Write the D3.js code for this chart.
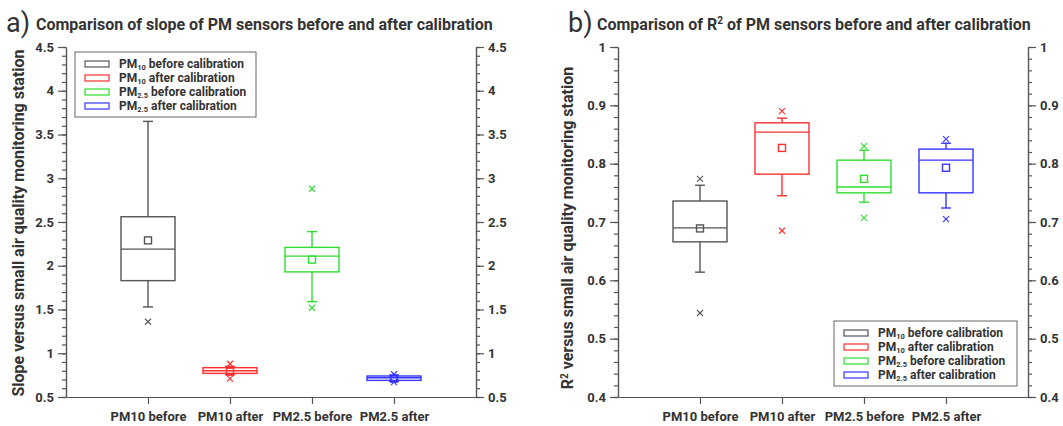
<!DOCTYPE html>
<html>
<head>
<meta charset="utf-8">
<script src="https://cdn.jsdelivr.net/npm/d3@7"></script>
<style>
  body { margin: 0; background: #fff; }
  svg text { font-family: Roboto, "Liberation Sans", sans-serif; fill: #333; }
</style>
</head>
<body>
<svg id="chart" width="1063" height="426"></svg>
<script>
// categories on the x axis
const categories = ["PM10 before", "PM10 after", "PM2.5 before", "PM2.5 after"];
const seriesColors = ["#555555", "#ff3030", "#30dd30", "#3535ff"];

// panel a: slope statistics
const slopeWhiskerLow = [1.53, 0.755, 1.59, 0.68];
const slopeQ1 = [1.83, 0.77, 1.93, 0.69];
const slopeMedian = [2.19, 0.80, 2.11, 0.72];
const slopeQ3 = [2.56, 0.835, 2.21, 0.74];
const slopeWhiskerHigh = [3.65, 0.85, 2.39, 0.75];
const slopeMean = [2.29, 0.79, 2.07, 0.71];
const slopeOutliers = [[1.36], [0.88, 0.71], [1.52, 2.88], [0.76, 0.67]];

// panel b: R² statistics
const r2WhiskerLow = [0.614, 0.745, 0.734, 0.724];
const r2Q1 = [0.666, 0.782, 0.750, 0.750];
const r2Median = [0.690, 0.854, 0.760, 0.806];
const r2Q3 = [0.736, 0.870, 0.806, 0.825];
const r2WhiskerHigh = [0.763, 0.878, 0.823, 0.835];
const r2Mean = [0.689, 0.827, 0.774, 0.793];
const r2Outliers = [[0.544, 0.774], [0.685, 0.890], [0.707, 0.830], [0.705, 0.842]];

// legend labels: [main, subscript, rest]
const legendLabels = [
  ["PM", "10", " before calibration"],
  ["PM", "10", " after calibration"],
  ["PM", "2.5", " before calibration"],
  ["PM", "2.5", " after calibration"]
];

const svg = d3.select("#chart");
const plotTop = 47, plotBottom = 397, plotWidth = 410;

function drawPanel(opt) {
  const g = svg.append("g");
  const L = opt.left, R = opt.left + plotWidth;

  const x = d3.scalePoint().domain(categories).range([L, R]).padding(1);
  const y = d3.scaleLinear().domain(opt.domain).range([plotBottom, plotTop]);

  const major = d3.range(opt.domain[0], opt.domain[1] + 1e-9, opt.major).map(v => +v.toFixed(3));
  const minor = d3.range(opt.domain[0], opt.domain[1] + 1e-9, opt.minor).map(v => +v.toFixed(3));

  // minor ticks first (no labels)
  g.append("g").attr("transform", `translate(${L},0)`)
    .call(d3.axisLeft(y).tickValues(minor).tickSize(4).tickSizeOuter(0).tickFormat(""));
  g.append("g").attr("transform", `translate(${R},0)`)
    .call(d3.axisRight(y).tickValues(minor).tickSize(4).tickSizeOuter(0).tickFormat(""));

  // major ticks with labels
  g.append("g").attr("transform", `translate(${L},0)`)
    .call(d3.axisLeft(y).tickValues(major).tickSize(8).tickSizeOuter(0).tickPadding(4).tickFormat(d3.format("")));
  g.append("g").attr("transform", `translate(${R},0)`)
    .call(d3.axisRight(y).tickValues(major).tickSize(8).tickSizeOuter(0).tickPadding(4).tickFormat(d3.format("")));

  g.append("g").attr("transform", `translate(0,${plotBottom})`)
    .call(d3.axisBottom(x).tickSize(7).tickSizeOuter(0).tickPadding(8));

  g.selectAll(".domain, .tick line").attr("stroke", "#555").attr("stroke-width", 1.2);
  g.selectAll(".tick text")
    .attr("font-size", 13).attr("font-weight", "bold").attr("fill", "#333")
    .style("font-family", "Roboto, 'Liberation Sans', sans-serif");

  // boxes
  const boxW = 54, capW = 10, m = 3.5, c = 3;
  categories.forEach((cat, i) => {
    const cx = x(cat), col = seriesColors[i];
    const bg = g.append("g").attr("stroke", col).attr("fill", "none").attr("stroke-width", 1.4);
    bg.append("line").attr("x1", cx).attr("x2", cx).attr("y1", y(opt.q3[i])).attr("y2", y(opt.hi[i]));
    bg.append("line").attr("x1", cx).attr("x2", cx).attr("y1", y(opt.q1[i])).attr("y2", y(opt.lo[i]));
    bg.append("line").attr("x1", cx - capW / 2).attr("x2", cx + capW / 2).attr("y1", y(opt.hi[i])).attr("y2", y(opt.hi[i]));
    bg.append("line").attr("x1", cx - capW / 2).attr("x2", cx + capW / 2).attr("y1", y(opt.lo[i])).attr("y2", y(opt.lo[i]));
    bg.append("rect").attr("x", cx - boxW / 2).attr("width", boxW)
      .attr("y", y(opt.q3[i])).attr("height", y(opt.q1[i]) - y(opt.q3[i]));
    bg.append("line").attr("x1", cx - boxW / 2).attr("x2", cx + boxW / 2)
      .attr("y1", y(opt.median[i])).attr("y2", y(opt.median[i]));
    bg.append("rect").attr("x", cx - m).attr("y", y(opt.mean[i]) - m).attr("width", 2 * m).attr("height", 2 * m);
    opt.outliers[i].forEach(v => {
      const oy = y(v);
      bg.append("path").attr("stroke-width", 1.1)
        .attr("d", `M${cx - c},${oy - c}L${cx + c},${oy + c}M${cx - c},${oy + c}L${cx + c},${oy - c}`);
    });
  });

  // legend
  const lg = g.append("g").attr("transform", `translate(${opt.legend[0]},${opt.legend[1]})`);
  lg.append("rect").attr("width", opt.legend[2]).attr("height", 65)
    .attr("fill", "#fff").attr("stroke", "#666").attr("stroke-width", 1);
  legendLabels.forEach((lab, i) => {
    const ly = 12 + i * 14;
    lg.append("rect").attr("x", 10).attr("y", ly - 3).attr("width", 24).attr("height", 6)
      .attr("fill", "none").attr("stroke", seriesColors[i]).attr("stroke-width", 1.2);
    const t = lg.append("text").attr("x", 44).attr("y", ly + 4)
      .attr("font-size", 12).attr("font-weight", "bold");
    t.append("tspan").text(lab[0]);
    t.append("tspan").attr("font-size", 7.5).attr("dy", 2).text(lab[1]);
    t.append("tspan").attr("dy", -2).text(lab[2]);
  });

  // panel letter and title
  svg.append("text").attr("x", opt.letterX).attr("y", 32)
    .attr("font-size", 27).attr("fill", "#333").text(opt.letter);
  const tt = svg.append("text").attr("x", opt.titleX).attr("y", 30)
    .attr("font-size", 16).attr("font-weight", "bold").attr("fill", "#333");
  opt.title.forEach(p => {
    const s = tt.append("tspan").text(p[0]);
    if (p[1] === "sup") s.attr("font-size", 10).attr("dy", -6);
    if (p[1] === "after") s.attr("dy", 6);
  });

  // y axis label
  const yl = svg.append("text")
    .attr("transform", `translate(${opt.ylabelX},${opt.ylabelY}) rotate(-90)`)
    .attr("text-anchor", "middle").attr("font-size", 16).attr("font-weight", "bold").attr("fill", "#333");
  opt.ylabel.forEach(p => {
    const s = yl.append("tspan").text(p[0]);
    if (p[1] === "sup") s.attr("font-size", 10).attr("dy", -5);
    if (p[1] === "after") s.attr("dy", 5);
  });
}

drawPanel({
  left: 66, domain: [0.5, 4.5], major: 0.5, minor: 0.1,
  lo: slopeWhiskerLow, q1: slopeQ1, median: slopeMedian, q3: slopeQ3, hi: slopeWhiskerHigh,
  mean: slopeMean, outliers: slopeOutliers,
  legend: [75, 52, 181],
  letter: "a)", letterX: 6, titleX: 36,
  title: [["Comparison of slope of PM sensors before and after calibration"]],
  ylabelX: 24, ylabelY: 223,
  ylabel: [["Slope versus small air quality monitoring station"]]
});

drawPanel({
  left: 618, domain: [0.4, 1.0], major: 0.1, minor: 0.02,
  lo: r2WhiskerLow, q1: r2Q1, median: r2Median, q3: r2Q3, hi: r2WhiskerHigh,
  mean: r2Mean, outliers: r2Outliers,
  legend: [834, 321, 183],
  letter: "b)", letterX: 568, titleX: 597,
  title: [["Comparison of R"], ["2", "sup"], [" of PM sensors before and after calibration", "after"]],
  ylabelX: 573, ylabelY: 228,
  ylabel: [["R"], ["2", "sup"], [" versus small air quality monitoring station", "after"]]
});
</script>
</body>
</html>
